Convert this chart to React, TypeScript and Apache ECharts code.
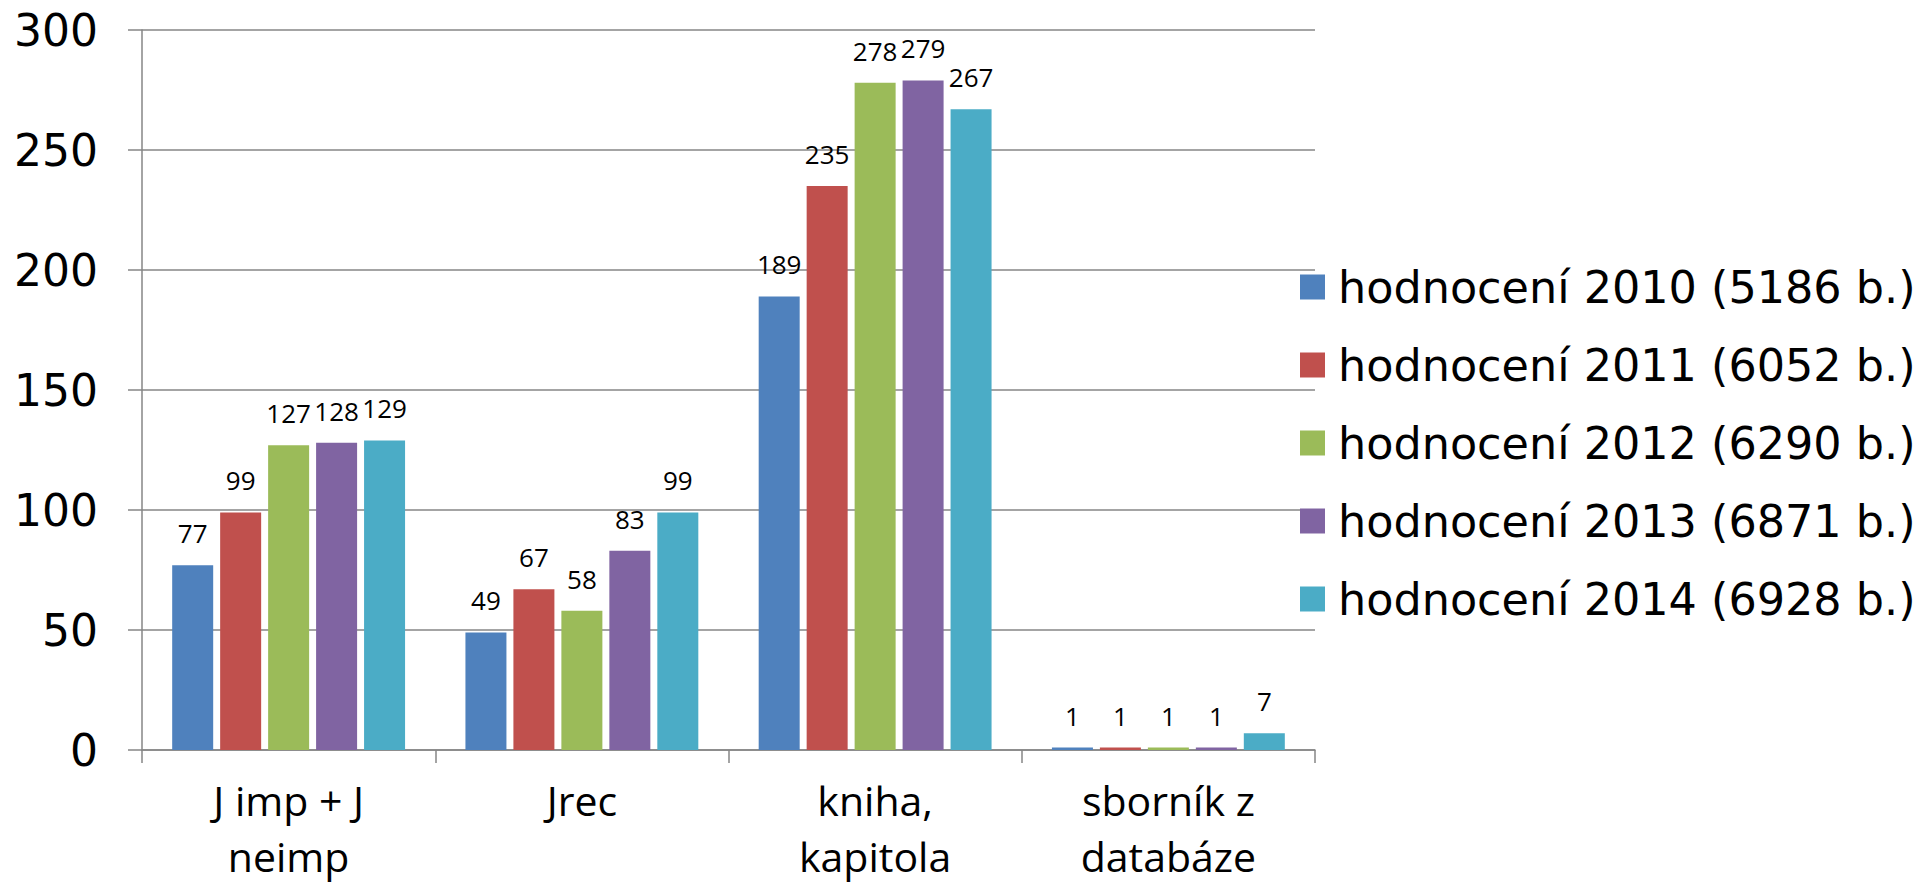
import React, { useEffect, useRef } from "react";
import * as echarts from "echarts";

const categories = ["J imp + J\nneimp", "Jrec", "kniha,\nkapitola", "sborník z\ndatabáze"];
const seriesNames = [
  "hodnocení 2010 (5186 b.)",
  "hodnocení 2011 (6052 b.)",
  "hodnocení 2012 (6290 b.)",
  "hodnocení 2013 (6871 b.)",
  "hodnocení 2014 (6928 b.)",
];
const values2010 = [77, 49, 189, 1];
const values2011 = [99, 67, 235, 1];
const values2012 = [127, 58, 278, 1];
const values2013 = [128, 83, 279, 1];
const values2014 = [129, 99, 267, 7];
const colors = ["#4F81BD", "#C0504D", "#9BBB59", "#8064A2", "#4BACC6"];

const FONT = "'Open Sans', 'Noto Sans', sans-serif";
const LEGEND_FONT = "'DejaVu Sans', sans-serif";

export default function App() {
  const ref = useRef<HTMLDivElement>(null);
  useEffect(() => {
    if (!ref.current) return;
    const chart = echarts.init(ref.current, undefined, { renderer: "svg" });
    const allValues = [values2010, values2011, values2012, values2013, values2014];
    chart.setOption({
      animation: false,
      backgroundColor: "#ffffff",
      grid: {
        left: 142,
        right: 610,
        top: 30,
        bottom: 134,
        containLabel: false,
        outerBoundsMode: "none",
      },
      legend: {
        orient: "vertical",
        left: 1300,
        top: 262,
        padding: 0,
        itemWidth: 25,
        itemHeight: 25,
        itemGap: 28,
        icon: "rect",
        data: seriesNames,
        textStyle: {
          fontFamily: LEGEND_FONT,
          fontSize: 44.5,
          lineHeight: 50,
          color: "#000",
          padding: [0, 0, 0, 8],
        },
      },
      xAxis: {
        type: "category",
        data: categories,
        axisLine: { lineStyle: { color: "#868686", width: 1.5 } },
        axisTick: { show: true, length: 13, lineStyle: { color: "#868686", width: 1.5 } },
        axisLabel: {
          fontFamily: FONT,
          fontSize: 41,
          lineHeight: 56,
          color: "#000",
          margin: 22,
          interval: 0,
        },
      },
      yAxis: {
        type: "value",
        min: 0,
        max: 300,
        interval: 50,
        axisLine: { show: true, lineStyle: { color: "#868686", width: 1.5 } },
        axisTick: { show: true, length: 14, lineStyle: { color: "#868686", width: 1.5 } },
        splitLine: { lineStyle: { color: "#868686", width: 1.5 } },
        axisLabel: {
          fontFamily: "'DejaVu Sans', sans-serif",
          fontSize: 44,
          color: "#000",
          margin: 44,
        },
      },
      series: seriesNames.map((name, i) => ({
        name,
        type: "bar",
        data: allValues[i],
        barWidth: 41,
        barGap: "17%",
        itemStyle: { color: colors[i] },
        label: {
          show: true,
          position: "top",
          distance: 19,
          fontFamily: FONT,
          fontSize: 26,
          color: "#000",
        },
      })),
    });
    return () => chart.dispose();
  }, []);
  return (
    <div
      ref={ref}
      style={{ position: "fixed", left: 0, top: 0, width: 1925, height: 884, background: "#fff" }}
    />
  );
}
